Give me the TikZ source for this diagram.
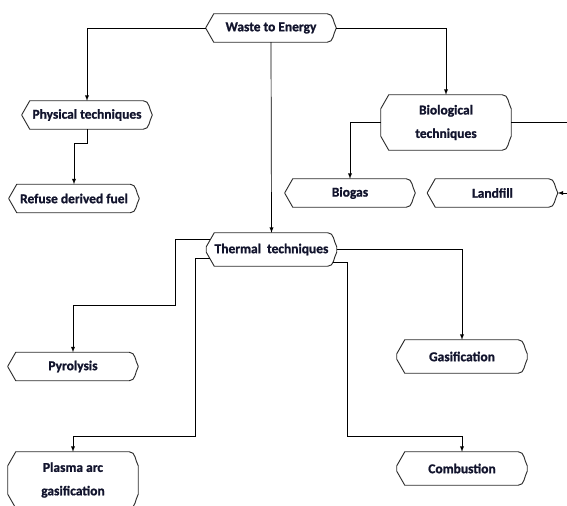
\documentclass[tikz,border=0pt]{standalone}
\usepackage{fontspec}
\setmainfont{Carlito}[BoldFeatures={FakeBold=1.2}]
\usetikzlibrary{calc}

\definecolor{textnavy}{RGB}{18,20,45}
\definecolor{edgegray}{RGB}{45,45,45}

\tikzset{
    box/.style={minimum width=3.9cm, minimum height=0.84cm, inner sep=0pt,
        align=center, text=textnavy,
        font=\fontsize{11.5}{20}\selectfont\bfseries},
    link/.style={line width=0.6pt, -latex},
}

\begin{document}
\begin{tikzpicture}[x=0.03cm, y=-0.03cm]
    % Fix the page to the size of the reference
    \useasboundingbox (0,0) rectangle (567,505);

    % Place the boxes
    \node[box] (energy) at (271,28) {Waste to Energy};
    \node[box] (phys) at (87,115) {Physical techniques};
    \node[box] (rdf) at (74,198.5) {Refuse derived fuel};
    \node[box, minimum height=1.65cm] (bio) at (446,122.5) {Biological\\techniques};
    \node[box] (biogas) at (350,193) {Biogas};
    \node[box] (landfill) at (492.5,193) {Landfill};
    \node[box, minimum height=0.99cm] (thermal) at (271.5,249.5) {Thermal\ \ techniques};
    \node[box] (pyro) at (73,366.5) {Pyrolysis};
    \node[box, minimum height=1.68cm] (plasma) at (73,480) {Plasma arc\\gasification};
    \node[box, minimum height=0.99cm] (gasif) at (462,356.5) {Gasification};
    \node[box, minimum height=0.99cm] (comb) at (462,468.5) {Combustion};

    % Draw the outline of every box
    \foreach \n in {energy,phys,rdf,bio,biogas,landfill,thermal,pyro,plasma,gasif,comb}
        \draw[line width=0.8pt, edgegray]
            ($(\n.north west)+(8,0)$) -- ($(\n.north east)+(-9,0)$)
            to[out=0,in=120] ($(\n.north east)+(0,14)$)
            -- ($(\n.south east)+(0,-14)$)
            to[out=-120,in=0] ($(\n.south east)+(-9,0)$)
            -- ($(\n.south west)+(8,0)$)
            -- ($(\n.south west)+(0,-14)$) -- ($(\n.north west)+(0,14)$) -- cycle;

    % Connectors from the top box
    \draw[link] (energy.west) -| (phys.north);
    \draw[link] (energy.east) -| (bio.north);
    \draw[link] (energy.south) -- (thermal.north);

    % Physical and biological branches
    \draw[link] (phys.south) -- ++(0,14) -| (rdf.north);
    \draw[link] (bio.west) -| (biogas.north);
    \draw[link] (bio.east) -- (569,122.5) |- (landfill.east);

    % Thermal branches
    \draw[link] ($(thermal.west)+(3.5,-10)$) -| (175,305) -| (pyro.north);
    \draw[link] ($(thermal.west)+(3.4,8.5)$) -| (195,436) -| (plasma.north);
    \draw[link] (thermal.east) -| (gasif.north);
    \draw[link] ($(thermal.east)+(-4,12.5)$) -| (347,436) -| (comb.north);
\end{tikzpicture}
\end{document}
